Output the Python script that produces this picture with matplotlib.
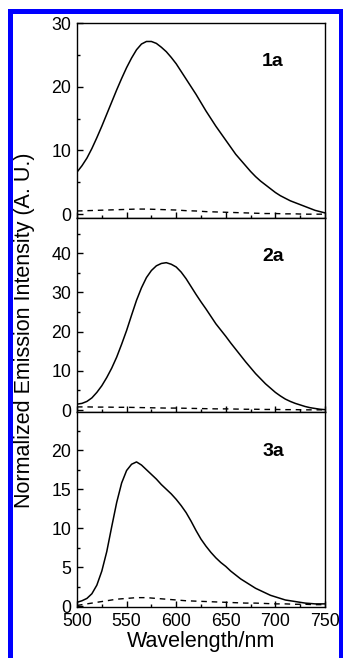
import matplotlib
matplotlib.use("Agg")
import matplotlib.pyplot as plt
from matplotlib.patches import Rectangle
from matplotlib.ticker import MultipleLocator

plt.rcParams["font.family"] = ["Liberation Sans", "DejaVu Sans"]

# wavelength grid (nm) for the solid spectra, read every 5 nm
wavelength = list(range(500, 755, 5))

solid_1a = [6.6, 7.6, 8.8, 10.3, 12.0, 13.8, 15.7, 17.6, 19.5, 21.3, 23.0, 24.5, 25.8,
            26.7, 27.1, 27.1, 26.8, 26.2, 25.5, 24.6, 23.6, 22.4, 21.2, 20.0, 18.8, 17.5,
            16.2, 15.0, 13.8, 12.7, 11.6, 10.5, 9.4, 8.5, 7.6, 6.7, 5.9, 5.2, 4.6, 4.0,
            3.4, 2.9, 2.5, 2.1, 1.8, 1.5, 1.2, 0.9, 0.6, 0.4, 0.2]
solid_2a = [1.5, 1.7, 2.2, 3.1, 4.5, 6.2, 8.3, 10.7, 13.5, 16.8, 20.3, 24.2, 28.0,
            31.2, 33.8, 35.6, 36.8, 37.4, 37.6, 37.2, 36.5, 35.2, 33.5, 31.5, 29.5, 27.6,
            25.8, 23.9, 22.0, 20.4, 18.8, 17.1, 15.5, 13.9, 12.3, 10.8, 9.3, 8.0, 6.7, 5.6,
            4.5, 3.6, 2.8, 2.2, 1.7, 1.3, 0.9, 0.6, 0.4, 0.2, 0.1]
solid_3a = [0.5, 0.7, 1.0, 1.6, 2.7, 4.5, 7.0, 10.2, 13.3, 15.8, 17.4, 18.2, 18.5,
            18.1, 17.5, 16.9, 16.3, 15.6, 15.0, 14.4, 13.7, 12.9, 12.0, 10.9, 9.7, 8.6,
            7.7, 6.9, 6.2, 5.6, 5.1, 4.5, 4.0, 3.5, 3.1, 2.7, 2.3, 2.0, 1.7, 1.4,
            1.2, 1.0, 0.8, 0.7, 0.6, 0.5, 0.4, 0.35, 0.3, 0.3, 0.3]

# dashed spectra, read every 10 nm
wavelength_dash = list(range(500, 760, 10))
dash_1a = [0.5, 0.55, 0.6, 0.65, 0.7, 0.75, 0.8, 0.8, 0.75, 0.7, 0.65, 0.55, 0.5,
           0.4, 0.35, 0.3, 0.25, 0.2, 0.15, 0.1, 0.1, 0.05, 0.05, 0.0, 0.0, 0.0]
dash_2a = [0.8, 0.8, 0.75, 0.75, 0.7, 0.7, 0.65, 0.6, 0.55, 0.5, 0.5, 0.45, 0.4,
           0.35, 0.3, 0.3, 0.25, 0.2, 0.2, 0.15, 0.15, 0.1, 0.1, 0.05, 0.05, 0.05]
dash_3a = [0.1, 0.3, 0.5, 0.7, 0.9, 1.0, 1.1, 1.1, 1.0, 0.9, 0.8, 0.7, 0.65,
           0.6, 0.55, 0.5, 0.45, 0.4, 0.4, 0.35, 0.3, 0.3, 0.25, 0.25, 0.2, 0.2]

panel_labels = ["1a", "2a", "3a"]
y_limits = [(-0.6, 30), (-0.5, 49), (-0.1, 24.9)]
y_major = [10, 10, 5]

W, H = 343, 658
fig = plt.figure(figsize=(W / 100, H / 100), dpi=100)

left, right = 77 / W, 325 / W
edges = [23, 218, 412, 607]
solids = [solid_1a, solid_2a, solid_3a]
dashes = [dash_1a, dash_2a, dash_3a]

axes = []
for i in range(3):
    top_px, bot_px = edges[i], edges[i + 1]
    ax = fig.add_axes([left, 1 - bot_px / H, right - left, (bot_px - top_px) / H])
    ax.plot(wavelength, solids[i], color="black", lw=1.1)
    ax.plot(wavelength_dash, dashes[i], color="black", lw=1.0, dashes=(4, 3.5))
    ax.set_xlim(500, 750)
    ax.set_ylim(*y_limits[i])
    ax.xaxis.set_major_locator(MultipleLocator(50))
    ax.xaxis.set_minor_locator(MultipleLocator(25))
    ax.yaxis.set_major_locator(MultipleLocator(y_major[i]))
    ax.yaxis.set_minor_locator(MultipleLocator(y_major[i] / 2))
    ax.tick_params(which="both", direction="in", top=False, right=False,
                   labelsize=12.8, width=1.0, pad=4)
    ax.tick_params(which="major", length=4.5)
    ax.tick_params(which="minor", length=2.5)
    for s in ax.spines.values():
        s.set_linewidth(1.0)
    if i < 2:
        ax.tick_params(labelbottom=False)
    ax.text(0.79, 0.8, panel_labels[i], transform=ax.transAxes, fontsize=14,
            fontweight="bold", ha="center", va="center")
    axes.append(ax)

axes[2].set_xlabel("Wavelength/nm", fontsize=15.5, labelpad=1)
fig.text(25 / W, 1 - 330 / H, "Normalized Emission Intensity (A. U.)", rotation=90,
         fontsize=15.5, ha="center", va="center")

# blue frame around the figure (bottom edge runs off the canvas)
lw_px = 5
frame = Rectangle((9.5 / W, -0.1), (340.5 - 9.5) / W, 1 - 11.5 / H + 0.1,
                  transform=fig.transFigure, fill=False, edgecolor="#0000FF",
                  linewidth=lw_px * 72 / 100, clip_on=False)
fig.patches.append(frame)

fig.savefig("out.png", dpi=100)
